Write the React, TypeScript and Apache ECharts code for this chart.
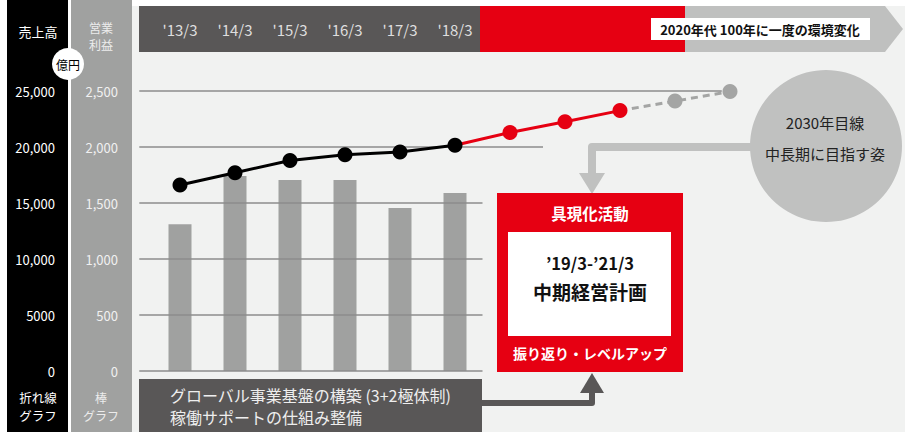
import React, { useEffect, useRef } from "react";
import * as echarts from "echarts";

// ---- data ----
const categories = ["'13/3", "'14/3", "'15/3", "'16/3", "'17/3", "'18/3"];
const salesActual = [16600, 17700, 18800, 19300, 19550, 20150]; // 億円, line
const salesPlan = [20150, 21300, 22250, 23250]; // '18/3 -> '21/3 (red)
const salesVision = [23250, 24100, 24950]; // '21/3 -> 2030 (grey dashed)
const profit = [1310, 1740, 1705, 1705, 1455, 1590]; // 億円, bars
const gridValues = [2500, 2000, 1500, 1000, 500, 0];
const gridEnds = [9.85, 6.6, 5.5, 5.5, 5.5, 5.5];
const gridStart = -0.74;

const FONT = "'Noto Sans CJK JP', 'Noto Sans', sans-serif";

export default function App() {
  const ref = useRef<HTMLDivElement>(null);
  useEffect(() => {
    document.body.style.margin = "0";
    if (!ref.current) return;
    const chart = echarts.init(ref.current, undefined, { renderer: "svg" });
    const planStart = categories.length - 1;
    const visionStart = planStart + salesPlan.length - 1;

    const txt = (x: number, y: number, text: string, fill: string, size: number, weight: any = "normal", align: any = "center") => ({
      type: "text",
      x,
      y,
      z: 1,
      style: { text, fill, fontSize: size, fontWeight: weight, fontFamily: FONT, textAlign: align, textVerticalAlign: "middle" },
    });

    const option: any = {
      animation: false,
      textStyle: { fontFamily: FONT },
      grid: { left: 125, right: 120, top: 91, bottom: 61, containLabel: false },
      xAxis: {
        type: "value",
        min: -1,
        max: 11,
        interval: 1,
        position: "top",
        z: 10,
        axisLine: { show: false },
        axisTick: { show: false },
        splitLine: { show: false },
        axisLabel: {
          margin: 62,
          verticalAlign: "middle",
          color: "#dedede",
          fontSize: 15,
          fontFamily: FONT,
          formatter: (v: number) => categories[Math.round(v)] ?? "",
        },
      },
      yAxis: [
        {
          type: "value",
          min: 0,
          max: 25000,
          interval: 5000,
          position: "left",
          z: 10,
          axisLine: { show: false },
          axisTick: { show: false },
          splitLine: { show: false },
          axisLabel: {
            margin: 70,
            color: "#ffffff",
            fontSize: 13,
            fontFamily: FONT,
            formatter: (v: number) => (v >= 10000 ? v.toLocaleString("en-US") : String(v)),
          },
        },
        {
          type: "value",
          min: 0,
          max: 2500,
          interval: 500,
          position: "left",
          z: 10,
          axisLine: { show: false },
          axisTick: { show: false },
          splitLine: { show: false },
          axisLabel: {
            margin: 7,
            color: "#f0f0f0",
            fontSize: 13,
            fontFamily: FONT,
            formatter: (v: number) => v.toLocaleString("en-US"),
          },
        },
      ],
      series: [
        {
          type: "bar",
          yAxisIndex: 1,
          barWidth: 23,
          itemStyle: { color: "#a0a1a0" },
          data: profit.map((v, i) => [i, v]),
          markLine: {
            silent: true,
            symbol: "none",
            label: { show: false },
            lineStyle: { color: "#8c8c8c", width: 1.5, type: "solid" },
            data: gridValues.map((g, k) => [{ coord: [gridStart, g] }, { coord: [gridEnds[k], g] }]),
          },
        },
        {
          type: "line",
          yAxisIndex: 0,
          z: 3,
          symbol: "circle",
          symbolSize: 15,
          lineStyle: { color: "#a4a5a4", width: 3, type: [7, 5] },
          itemStyle: { color: "#a4a5a4" },
          data: salesVision.map((v, k) => ({ value: [visionStart + k, v], symbol: k === 0 ? "none" : "circle" })),
        },
        {
          type: "line",
          yAxisIndex: 0,
          z: 4,
          symbol: "circle",
          symbolSize: 15,
          lineStyle: { color: "#e60012", width: 3 },
          itemStyle: { color: "#e60012" },
          data: salesPlan.map((v, k) => ({ value: [planStart + k, v], symbol: k === 0 ? "none" : "circle" })),
        },
        {
          type: "line",
          yAxisIndex: 0,
          z: 5,
          symbol: "circle",
          symbolSize: 15,
          lineStyle: { color: "#000000", width: 3 },
          itemStyle: { color: "#000000" },
          data: salesActual.map((v, i) => [i, v]),
        },
      ],
      graphic: [
        { type: "rect", z: 0, shape: { x: 131, y: 0, width: 774, height: 432 }, style: { fill: "#f1f2f1" } },
        { type: "rect", z: 0, shape: { x: 131, y: 0, width: 774, height: 6 }, style: { fill: "#ffffff" } },
        { type: "rect", z: 0, shape: { x: 7, y: 0, width: 61, height: 432 }, style: { fill: "#000000" } },
        { type: "rect", z: 0, shape: { x: 71, y: 0, width: 61, height: 432 }, style: { fill: "#a0a1a0" } },
        { type: "circle", z: 1, shape: { cx: 68, cy: 64, r: 16 }, style: { fill: "#ffffff" } },
        txt(68, 64, "億円", "#000000", 12),
        txt(38, 31, "売上高", "#ffffff", 13),
        txt(101, 27, "営業", "#ececec", 12),
        txt(101, 44, "利益", "#ececec", 12),
        txt(38, 397, "折れ線", "#ffffff", 12.5),
        txt(38, 415, "グラフ", "#ffffff", 12.5),
        txt(101, 397, "棒", "#ececec", 12),
        txt(101, 415, "グラフ", "#ececec", 12),
        // top band
        { type: "rect", z: 0, shape: { x: 139, y: 6, width: 341, height: 46 }, style: { fill: "#595757" } },
        { type: "rect", z: 0, shape: { x: 480, y: 6, width: 205, height: 46 }, style: { fill: "#e60012" } },
        {
          type: "polygon",
          z: 0,
          shape: { points: [[685, 6], [885, 6], [903, 29], [885, 52], [685, 52]] },
          style: { fill: "#bfc0bf" },
        },
        { type: "rect", z: 1, shape: { x: 651, y: 18, width: 219, height: 22 }, style: { fill: "#ffffff" } },
        txt(760, 29, "2020年代 100年に一度の環境変化", "#111111", 13, "bold"),
        // vision circle
        { type: "circle", z: 0, shape: { cx: 826, cy: 146, r: 76 }, style: { fill: "#c0c1c0" } },
        txt(825, 122, "2030年目線", "#222222", 15),
        txt(825, 153, "中長期に目指す姿", "#222222", 15),
        {
          type: "polyline",
          z: 0,
          shape: { points: [[752, 147], [592, 147], [592, 176]] },
          style: { stroke: "#c0c1c0", lineWidth: 8, fill: null, lineJoin: "round" },
        },
        { type: "polygon", z: 0, shape: { points: [[579, 173], [605, 173], [592, 194]] }, style: { fill: "#c0c1c0" } },
        // red plan box
        { type: "rect", z: 0, shape: { x: 497, y: 193, width: 186, height: 179 }, style: { fill: "#e60012" } },
        { type: "rect", z: 1, shape: { x: 508, y: 232, width: 163, height: 104 }, style: { fill: "#ffffff" } },
        txt(590, 213, "具現化活動", "#ffffff", 15.5, "bold"),
        txt(590, 263, "’19/3-’21/3", "#111111", 16.5, "bold"),
        txt(590, 291, "中期経営計画", "#111111", 19, "bold"),
        txt(590, 353, "振り返り・レベルアップ", "#ffffff", 14, "bold"),
        // bottom box
        { type: "rect", z: 0, shape: { x: 139, y: 379, width: 343, height: 53 }, style: { fill: "#595757" } },
        txt(170, 395, "グローバル事業基盤の構築 (3+2極体制)", "#eeeeee", 16, "normal", "left"),
        txt(170, 417, "稼働サポートの仕組み整備", "#eeeeee", 16, "normal", "left"),
        {
          type: "polyline",
          z: 0,
          shape: { points: [[482, 403], [592, 403], [592, 390]] },
          style: { stroke: "#595757", lineWidth: 6, fill: null, lineJoin: "round" },
        },
        { type: "polygon", z: 0, shape: { points: [[580, 393], [604, 393], [592, 373]] }, style: { fill: "#595757" } },
      ],
    };
    chart.setOption(option);
    return () => chart.dispose();
  }, []);
  return <div ref={ref} style={{ width: 905, height: 432, position: "absolute", left: 0, top: 0 }} />;
}
